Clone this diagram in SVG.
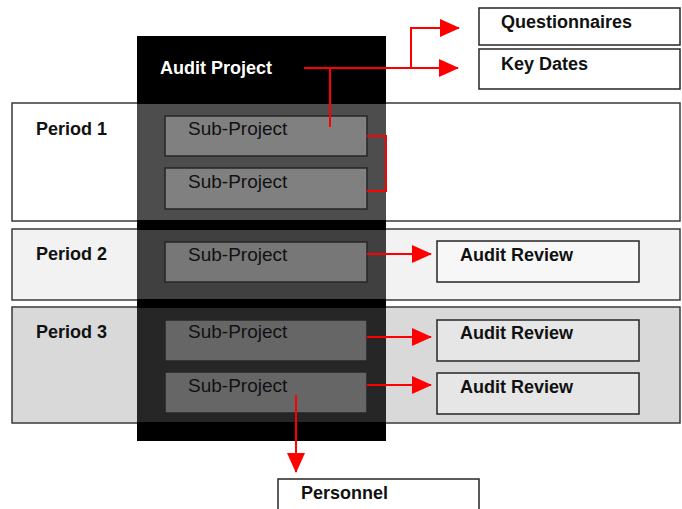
<svg xmlns="http://www.w3.org/2000/svg" width="682" height="509" viewBox="0 0 682 509">
<style>
.period{stroke:#3a3a3a;stroke-width:1.5}
.box{stroke:#262626;stroke-width:1.5}
.lbl{font-family:"Liberation Sans",Arial,sans-serif;font-size:18px;font-weight:bold;fill:#111}
.sub{font-family:"Liberation Sans",Arial,sans-serif;font-size:19px;fill:#111}
.conn{fill:none;stroke:#ff0000;stroke-width:2}
</style>
<defs>
<marker id="ah" markerUnits="userSpaceOnUse" markerWidth="20" markerHeight="20" viewBox="0 0 20 20" refX="19" refY="10" orient="auto">
<path d="M0,1 L20,10 L0,19 Z" fill="#ff0000"/>
</marker>
</defs>
<rect width="682" height="509" fill="#ffffff"/>
<g id="period1"><rect class="period" x="12" y="103" width="668" height="118" fill="#ffffff"/><text class="lbl" x="36" y="135">Period 1</text></g>
<g id="period2"><rect class="period" x="12" y="229" width="668" height="71" fill="#f2f2f2"/><text class="lbl" x="36" y="260">Period 2</text></g>
<g id="period3"><rect class="period" x="12" y="307" width="668" height="116" fill="#d9d9d9"/><text class="lbl" x="36" y="338">Period 3</text></g>
<g id="audit-project">
<rect x="137" y="36" width="249" height="405" fill="#000000"/>
<rect x="137" y="104" width="249" height="116" fill="#4d4d4d"/>
<rect x="137" y="230" width="249" height="69" fill="#404040"/>
<rect x="137" y="308" width="249" height="114" fill="#262626"/>
<text class="lbl" x="160" y="74" fill="#ffffff" style="fill:#ffffff">Audit Project</text>
</g>
<g id="sub1"><rect class="box" x="165" y="116" width="202" height="40" fill="#808080"/><text class="sub" x="188" y="135">Sub-Project</text></g>
<g id="sub2"><rect class="box" x="165" y="168" width="202" height="41" fill="#808080"/><text class="sub" x="188" y="188">Sub-Project</text></g>
<g id="sub3"><rect class="box" x="165" y="242" width="202" height="40" fill="#777777"/><text class="sub" x="188" y="261">Sub-Project</text></g>
<g id="sub4"><rect class="box" x="165" y="320" width="202" height="41" fill="#666666"/><text class="sub" x="188" y="338">Sub-Project</text></g>
<g id="sub5"><rect class="box" x="165" y="372" width="202" height="41" fill="#666666"/><text class="sub" x="188" y="392">Sub-Project</text></g>
<g id="questionnaires"><rect class="box" x="479" y="8" width="201" height="37" fill="#ffffff"/><text class="lbl" x="501" y="28">Questionnaires</text></g>
<g id="key-dates"><rect class="box" x="479" y="49" width="201" height="40" fill="#ffffff"/><text class="lbl" x="501" y="70">Key Dates</text></g>
<g id="review1"><rect class="box" x="437" y="241" width="202" height="41" fill="#f7f7f7"/><text class="lbl" x="460" y="261">Audit Review</text></g>
<g id="review2"><rect class="box" x="437" y="320" width="202" height="41" fill="#e6e6e6"/><text class="lbl" x="460" y="339">Audit Review</text></g>
<g id="review3"><rect class="box" x="437" y="373" width="202" height="41" fill="#e6e6e6"/><text class="lbl" x="460" y="393">Audit Review</text></g>
<g id="personnel"><rect class="box" x="278" y="479" width="201" height="40" fill="#ffffff"/><text class="lbl" x="301" y="499">Personnel</text></g>
<g id="connectors">
<path class="conn" d="M304,68 H458" marker-end="url(#ah)"/>
<path class="conn" d="M411,68 V28 H459" marker-end="url(#ah)"/>
<path class="conn" d="M330,68 V127"/>
<path class="conn" d="M367,136 H386 V191 H367"/>
<path class="conn" d="M367,254 H431" marker-end="url(#ah)"/>
<path class="conn" d="M367,337 H431" marker-end="url(#ah)"/>
<path class="conn" d="M367,385 H431" marker-end="url(#ah)"/>
<path class="conn" d="M296,395 V472" marker-end="url(#ah)"/>
</g>
</svg>
